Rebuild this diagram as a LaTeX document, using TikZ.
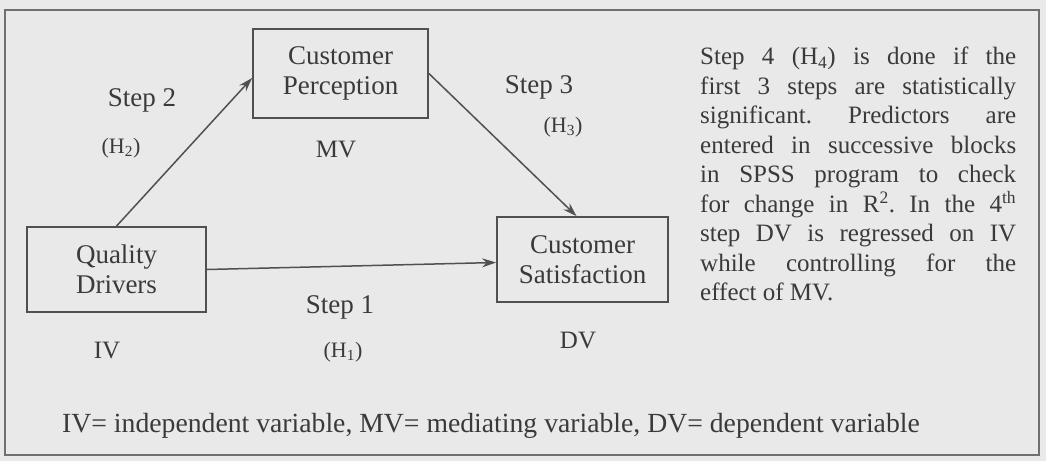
\documentclass[tikz,border=0pt]{standalone}
\usepackage{fontspec}
\setmainfont{Liberation Serif}
\usetikzlibrary{arrows.meta}
\definecolor{paper}{HTML}{E9E9E9}
\definecolor{ink}{HTML}{3A3A3A}
\definecolor{rulecol}{HTML}{505050}
\definecolor{framecol}{HTML}{707070}
\frenchspacing
\begin{document}
\begin{tikzpicture}[x=1pt,y=-1pt,
  varbox/.style={draw=rulecol, line width=1.8pt, inner sep=0pt, align=center,
    text=ink, font=\fontsize{27}{30.5}\selectfont},
  lbl/.style={text=ink, inner sep=0pt, anchor=base, font=\fontsize{27}{30}\selectfont},
  hyp/.style={text=ink, inner sep=0pt, anchor=base, font=\fontsize{22}{24}\selectfont},
  var/.style={text=ink, inner sep=0pt, anchor=base, font=\fontsize{25}{28}\selectfont},
  link/.style={draw=rulecol, line width=1.5pt, -{Stealth[length=14pt,width=9pt]}},
]
\useasboundingbox (0,0) rectangle (1046,461);
\fill[paper] (0,0) rectangle (1046,461);
% outer frame
\draw[framecol, line width=2pt] (5,10) rectangle (1039,455);

% variables
\node[varbox, minimum width=175pt, minimum height=89pt] (cp) at (340.5,73.5) {Customer\\Perception};
\node[varbox, minimum width=179pt, minimum height=85pt] (qd) at (116.5,269.5) {Quality\\Drivers};
\node[varbox, minimum width=171pt, minimum height=85pt] (cs) at (582.5,259.5) {Customer\\Satisfaction};

% paths
\draw[link] (qd.north) -- ([yshift=-4.5pt]cp.west);
\draw[link] (cp.east) -- ([xshift=-6pt]cs.north);
\draw[link] (qd.east) -- ([yshift=-3pt]cs.west);

% path labels
\node[lbl] (s2) at (142,106) {Step 2};
\node[hyp] (h2) at (121,153) {(H\textsubscript{2})};
\node[var] (mv) at (336,157) {MV};
\node[lbl] (s3) at (539,93) {Step 3};
\node[hyp] (h3) at (563,132) {(H\textsubscript{3})};
\node[lbl] (s1) at (340,313) {Step 1};
\node[hyp] (h1) at (343,357) {(H\textsubscript{1})};
\node[var] (iv) at (107,358) {IV};
\node[var] (dv) at (578,348) {DV};

% key
\node[lbl, anchor=base west, font=\fontsize{27.7}{30}\selectfont] (key) at (62,432)
  {IV= independent variable, MV= mediating variable, DV= dependent variable};

% explanatory note
\node[text=ink, inner sep=0pt, anchor=north west, align=left,
      font=\fontsize{25}{29.5}\selectfont] (note) at (700,47)
  {\makebox[316pt][s]{Step 4 (H\textsubscript{4}) is done if the}\\
   \makebox[316pt][s]{first 3 steps are statistically}\\
   \makebox[316pt][s]{significant. Predictors are}\\
   \makebox[316pt][s]{entered in successive blocks}\\
   \makebox[316pt][s]{in SPSS program to check}\\
   \makebox[316pt][s]{for change in R\textsuperscript{2}. In the 4\textsuperscript{th}}\\
   \makebox[316pt][s]{step DV is regressed on IV}\\
   \makebox[316pt][s]{while controlling for the}\\
   effect of MV.};
\end{tikzpicture}
\end{document}
